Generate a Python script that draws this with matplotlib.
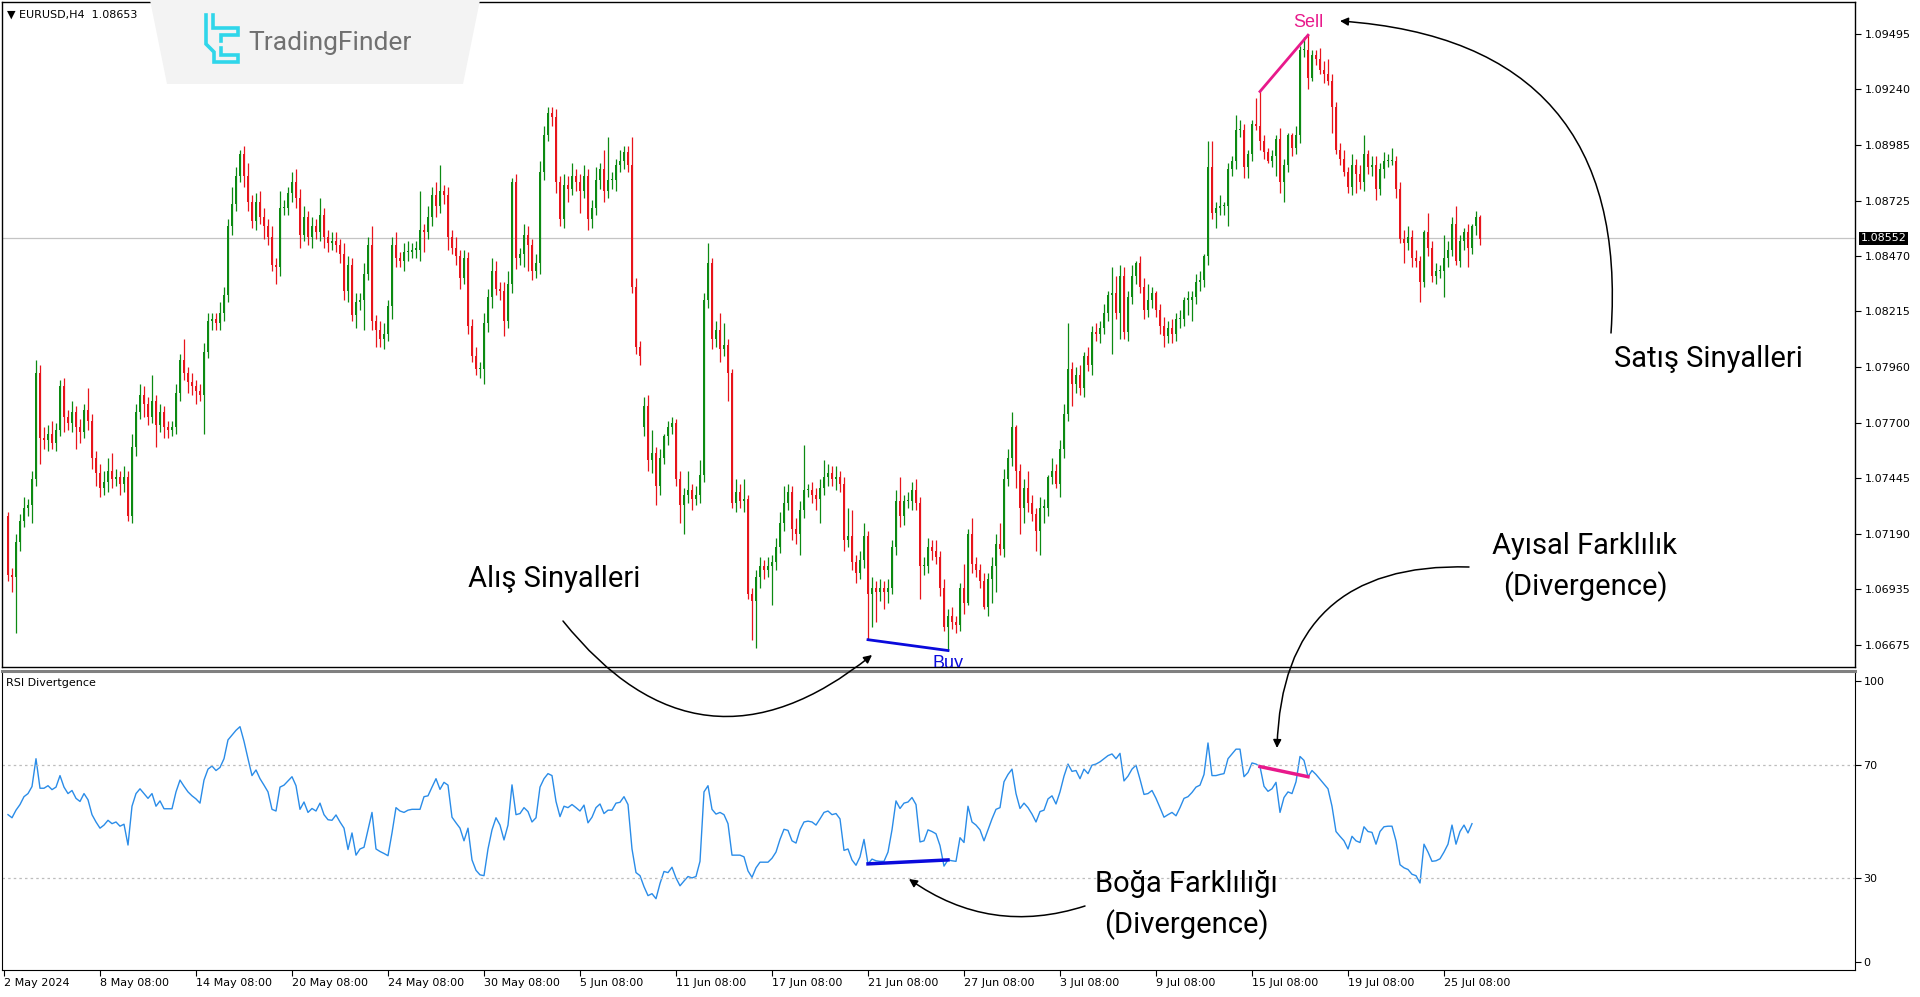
import numpy as np
import matplotlib
matplotlib.use("Agg")
import matplotlib.pyplot as plt
from matplotlib.patches import Polygon

# ---- data (prices are in pips above 1.06000, one bar = H4 candle) ----
first_open = 127
closes = [
    100, 99, 115, 125, 131, 132, 144, 193, 163, 162,
    165, 161, 167, 187, 173, 170, 175, 168, 166, 176,
    171, 154, 147, 140, 143, 148, 144, 145, 142, 145,
    127, 159, 175, 183, 179, 173, 180, 169, 175, 168,
    167, 168, 184, 199, 193, 189, 187, 185, 183, 203,
    217, 218, 216, 221, 229, 261, 271, 284, 294, 284,
    272, 263, 272, 265, 261, 256, 243, 242, 269, 269,
    276, 281, 274, 257, 265, 256, 261, 258, 266, 256,
    253, 254,
    252, 248, 231, 243, 220, 226, 227, 239, 252, 217,
    213, 209, 211, 224, 252, 246, 245, 249, 249, 250,
    250, 259, 258, 265, 275, 270, 277, 275, 256, 251,
    247, 237, 246, 215, 201, 195, 195, 216, 228, 240,
    232, 231, 217, 234, 281, 246, 248, 257, 252, 240,
    244, 286, 303, 313, 311, 281, 264, 280, 278, 284,
    281, 277, 284, 264, 269, 282, 287, 277, 282, 282,
    289, 291, 295, 289, 233, 205, 201,
    178, 153, 156, 141, 154, 164, 168, 170, 144, 132,
    137, 139, 135, 137, 146, 227, 244, 209, 213, 204,
    206, 193, 133, 138, 134, 135, 91, 88, 99, 104,
    102, 104, 106, 113, 124, 133, 138, 121, 119, 130,
    139, 139, 137, 135, 140, 145, 147, 144, 145, 142,
    116, 118, 106, 101, 107, 118, 91, 94, 92, 94,
    92, 94, 113, 134, 127, 134, 134, 139, 133, 104,
    104, 113, 111, 108, 94, 76, 81, 78, 77, 94,
    87, 119, 105, 102,
    97, 85, 98, 104, 114, 112, 144, 154, 168, 148,
    131, 140, 133, 128, 120, 131, 131, 145, 148, 142,
    158, 174, 195, 188, 192, 186, 201, 197, 212, 211,
    214, 221, 229, 230, 221, 238, 212, 228, 238, 244,
    233, 222, 227, 230, 222, 215, 210, 214, 211, 218,
    218, 227, 227, 228, 235, 236, 247, 288, 267, 269,
    270, 270, 287, 291,
    305, 305, 288, 294, 308, 307, 300, 295, 291, 293,
    301, 281, 289, 303, 297, 303, 342, 342, 329, 340,
    338, 333, 331, 328, 316, 296, 292, 286, 279, 289,
    285, 281, 294, 288, 289, 278, 287, 291, 291, 291,
    278, 255, 253, 256, 246, 245, 235, 258, 251, 238,
    240, 240, 246, 250, 262, 245, 254, 258, 251, 261,
    265, 255,
]
# upper / lower shadow length beyond the body, pips
hi_wick = [
    2, 3, 4, 3, 5, 3, 4, 6, 4, 5,
    4, 6, 3, 3, 4, 3, 5, 3, 4, 3,
    10, 3, 3, 4, 5, 6, 8, 4, 3, 5,
    3, 6, 4, 5, 4, 3, 12, 3, 4, 3,
    3, 3, 4, 3, 10, 3, 4, 3, 3, 4,
    4, 3, 3, 5, 4, 3, 8, 4, 2, 4,
    6, 3, 4, 5, 4, 3, 5, 3, 8, 4,
    3, 5, 6, 4, 5, 3, 4, 3, 8, 3,
    3, 4,
    4, 3, 5, 4, 3, 4, 3, 5, 4, 9,
    3, 4, 5, 3, 4, 6, 3, 4, 5, 3,
    4, 18, 3, 5, 4, 6, 12, 3, 4, 3,
    5, 3, 4, 3, 3, 4, 3, 5, 4, 6,
    5, 3, 4, 6, 2, 4, 3, 5, 4, 3,
    4, 5, 4, 3, 3, 4, 3, 5, 4, 6,
    3, 4, 5, 3, 4, 6, 3, 9, 20, 4,
    3, 5, 3, 3, 13, 4, 3,
    4, 5, 11, 3, 4, 1, 3, 3, 2, 4,
    3, 9, 3, 4, 7, 3, 9, 2, 4, 8,
    10, 3, 2, 6, 4, 9, 2, 3, 3, 4,
    3, 4, 3, 4, 5, 8, 4, 3, 5, 4,
    21, 3, 4, 3, 4, 8, 4, 3, 5, 3,
    3, 13, 12, 3, 4, 6, 2, 5, 3, 4,
    3, 4, 3, 5, 11, 3, 4, 4, 5, 3,
    4, 4, 3, 5, 3, 4, 3, 4, 3, 2,
    11, 2, 7, 3,
    3, 4, 3, 4, 5, 10, 5, 4, 7, 1,
    3, 4, 8, 4, 3, 5, 4, 1, 6, 3,
    4, 5, 21, 3, 4, 5, 2, 4, 3, 4,
    3, 4, 2, 12, 8, 5, 4, 3, 5, 1,
    3, 4, 7, 3, 1, 3, 4, 3, 4, 3,
    4, 1, 4, 3, 4, 4, 1, 12, 12, 3,
    5, 2, 3, 2,
    7, 5, 3, 2, 2, 12, 16, 3, 2, 3,
    2, 5, 3, 1, 1, 4, 2, 6, 7, 2,
    2, 5, 4, 7, 3, 2, 3, 4, 2, 5,
    3, 4, 9, 2, 4, 4, 3, 4, 3, 6,
    2, 3, 4, 5, 3, 4, 2, 1, 9, 3,
    4, 3, 11, 4, 3, 8, 3, 2, 4, 1,
    3, 1,
]
lo_wick = [
    3, 7, 26, 4, 3, 4, 8, 3, 12, 4,
    5, 3, 4, 3, 7, 3, 4, 10, 5, 3,
    4, 5, 6, 4, 3, 5, 4, 3, 5, 4,
    2, 3, 4, 3, 6, 4, 3, 10, 3, 5,
    4, 3, 3, 4, 3, 5, 4, 6, 3, 18,
    3, 4, 3, 3, 4, 3, 4, 3, 3, 5,
    4, 3, 4, 3, 6, 4, 3, 8, 4, 3,
    3, 4, 5, 6, 3, 4, 5, 3, 4, 5,
    4, 3,
    3, 4, 4, 5, 3, 6, 4, 14, 3, 4,
    8, 4, 5, 3, 6, 4, 3, 5, 4, 3,
    4, 5, 9, 3, 4, 5, 3, 4, 6, 3,
    4, 5, 3, 4, 3, 3, 4, 7, 4, 5,
    3, 4, 7, 3, 4, 5, 3, 6, 12, 4,
    3, 5, 4, 3, 4, 5, 3, 4, 6, 3,
    4, 10, 3, 5, 4, 3, 4, 5, 3, 4,
    5, 3, 4, 3, 3, 3, 4,
    4, 5, 6, 9, 4, 3, 4, 3, 3, 8,
    13, 4, 5, 3, 4, 3, 4, 5, 4, 6,
    3, 13, 2, 4, 3, 5, 2, 18, 22, 5,
    4, 3, 18, 4, 3, 4, 3, 5, 5, 10,
    4, 3, 4, 5, 11, 3, 4, 3, 5, 4,
    5, 3, 4, 5, 3, 4, 21, 15, 14, 4,
    8, 5, 3, 4, 5, 4, 3, 4, 3, 15,
    4, 3, 4, 3, 4, 2, 11, 3, 4, 3,
    5, 1, 4, 3,
    3, 1, 4, 11, 12, 3, 4, 3, 4, 8,
    12, 7, 4, 3, 9, 11, 7, 4, 3, 2,
    6, 4, 3, 10, 4, 3, 4, 3, 5, 3,
    4, 3, 4, 27, 3, 12, 3, 4, 3, 4,
    3, 4, 3, 4, 3, 4, 5, 3, 4, 3,
    4, 3, 7, 10, 3, 4, 3, 4, 3, 7,
    3, 4, 9, 3,
    4, 3, 5, 5, 3, 2, 4, 3, 1, 3,
    9, 5, 9, 3, 4, 3, 4, 3, 5, 1,
    3, 2, 4, 2, 12, 2, 3, 2, 3, 4,
    9, 3, 4, 3, 4, 5, 3, 4, 3, 2,
    4, 2, 9, 3, 4, 3, 9, 2, 4, 3,
    4, 3, 12, 4, 3, 2, 3, 4, 9, 3,
    4, 3,
]
gap_opens = {159: 168}   # Monday gap open

rsi = [
    52.4, 51.3, 54, 56, 58.8, 59.9, 62.4, 72.3, 61.8, 61.8,
    62.7, 61.3, 62.2, 66.3, 62.2, 59.9, 61, 58.2, 57.1, 59.9,
    57.7, 52.4, 49.8, 47.6, 48.7, 50.4, 49.2, 49.8, 48.3, 49,
    41.6, 55.4, 59.9, 61.6, 59.9, 58.2, 59.9, 55.4, 57.3, 54.5,
    54.5, 54.5, 60.5, 64.7, 62.5, 60.5, 59.1, 58, 56.5, 64.7,
    68.6, 69.7, 68.1, 69.2, 72.3, 79, 80.7, 82.4, 83.7, 78.5,
    72.3, 66.3, 68.3, 65.2, 62.9, 60.5, 54.3, 53.7, 62.2, 62.9,
    64.4, 65.9, 62.7, 54.3, 56.9, 53.2, 54.6, 53.7, 56.5, 52.4,
    50.6, 50.4, 52.3, 49.8, 47.6, 40, 45.9, 38, 40.2, 40.8,
    47, 53.2, 40.2, 39.3, 38.6, 37.8, 45.9, 54.9, 53.7, 53.2,
    54, 54.3, 54.3, 54.3, 58.8, 59.1, 62.2, 65.2, 61.4, 63.9,
    62.9, 51.5, 49.5, 47.6, 43.1, 47.6, 36.3, 32.6, 31, 30.7,
    40.2, 47, 51.3,
    48.7, 43.4, 48.7, 63, 52.4, 52.8, 54.9, 53.5, 49.8, 51.3,
    62.2, 65.2, 67, 66.3, 57.1, 51.7, 55.4, 54.9, 56, 54.9,
    53.7, 55.8, 49.5, 51.5, 54.9, 56.2, 52.8, 54, 54, 56.5,
    56.8, 58.8, 56, 40.2, 31.8, 30.7, 26.8, 23.6, 24.3, 22.5,
    27.9, 32.2, 31.8, 33.7, 29.9, 27.1, 28.8, 30.4, 29.9, 30.4,
    35.8, 60.5, 62.7, 54.3, 52.6, 53.2, 52.4, 49.2, 38, 38,
    38, 37.4, 32.4, 30.1, 33.5, 35.5, 35.5, 35.5, 36.9, 39.1,
    43.6, 47.2, 46.8, 43.1, 42.3, 47, 49.8, 50.1, 49.8, 48.7,
    50.9, 53.2, 53.7, 52.4, 52.8, 50.9, 39.7, 40.2, 36.3, 34.4,
    37.4, 43.6, 34.9, 36.6, 36, 35.8, 35.8, 39.1, 47, 57.3,
    54.6, 56.5, 56.9, 58.5, 56, 42.7, 43.1, 47, 46.4, 45.6,
    41.4, 34.1, 36.3, 36, 35.8, 44.2, 42.5, 55.4, 49.8, 48.7,
    47, 43.1, 47, 50.9, 54.3, 54.9,
    64.1, 66.7, 68.6, 59.9, 54.6, 56.5, 54.9, 52.6, 49.8, 53.5,
    54, 58, 59.1, 56.2, 60.5, 66.1, 70.4, 67.8, 68.1, 65.2,
    68.6, 67, 70, 70.4, 71.2, 72.3, 73.4, 74, 72.3, 74.2,
    64.4, 66.1, 68.6, 70, 65, 59.6, 59.9, 61, 58.2, 54.9,
    51.5, 52.4, 53.2, 52, 54.9, 58.2, 58.8, 60.3, 62.2, 62.9,
    66.7, 77.9, 66.3, 66.3, 66.7, 67, 72.3, 74, 75.7, 75.7,
    65.9, 67.4, 70.8, 70.4, 69.5, 62.5, 60.7, 61.6, 63.9, 53.2,
    58.5, 60.5, 59.9, 64.1, 73.1, 71.7, 65.9, 68.1, 66.7, 65,
    63.3, 61.6, 55.4, 46.4, 44.7, 43.1, 40.2, 44.7, 43.1, 42.5,
    48.1, 46.4, 46.1, 41.9, 46.4, 48.1, 48.3, 48.3, 43.1, 34.6,
    33.5, 32.9, 31.2, 30.7, 28.1, 41.9, 39.1, 35.8, 36, 36.7,
    39.1, 41.9, 48.7, 41.9, 46.4, 48.7, 45.9, 49.2,
]

price_ticks = [349.5, 324.0, 298.5, 272.5, 247.0, 221.5, 196.0, 170.0, 144.5, 119.0, 93.5, 67.5]
price_labels = ["1.09495", "1.09240", "1.08985", "1.08725", "1.08470", "1.08215",
                "1.07960", "1.07700", "1.07445", "1.07190", "1.06935", "1.06675"]
last_price = 255.2
last_label = "1.08552"

date_ticks = [-1, 23, 47, 71, 95, 119, 143, 167, 191, 215, 239, 263, 287, 311, 335, 359]
date_labels = ["2 May 2024", "8 May 08:00", "14 May 08:00", "20 May 08:00", "24 May 08:00",
               "30 May 08:00", "5 Jun 08:00", "11 Jun 08:00", "17 Jun 08:00", "21 Jun 08:00",
               "27 Jun 08:00", "3 Jul 08:00", "9 Jul 08:00", "15 Jul 08:00", "19 Jul 08:00",
               "25 Jul 08:00"]
rsi_ticks = [100, 70, 30, 0]

buy_bars = [215, 235]
sell_bars = [313, 325]

GREEN = "#0C8A12"
RED = "#E8141B"
MAGENTA = "#E8198B"
BLUE = "#0A0ADC"
BIG = ["Roboto", "DejaVu Sans"]
BIG_SIZE = 21

plt.rcParams["font.family"] = ["DejaVu Sans"]
fig = plt.figure(figsize=(19.2, 9.97), dpi=100)
W, H = 1920, 997

ax = fig.add_axes([2 / W, 1 - 667 / H, 1853 / W, 665 / H])
ax2 = fig.add_axes([2 / W, 1 - 970 / H, 1853 / W, 299 / H])

# ---- candles ----
n = len(closes)
x = np.arange(n)
c = np.array(closes, float)
o = np.array([first_open] + closes[:-1], float)
for k, v in gap_opens.items():
    o[k] = v
hi = np.maximum(o, c) + np.array(hi_wick)
lo = np.minimum(o, c) - np.array(lo_wick)
cols = np.where(c >= o, GREEN, RED)

ax.axhline(last_price, color="#C4C4C4", lw=0.9, zorder=1)
ax.vlines(x, lo, hi, colors=cols, lw=0.9, zorder=2)
ax.bar(x, np.maximum(np.abs(c - o), 0.6), bottom=np.minimum(o, c), width=0.62,
       color=cols, linewidth=0, zorder=3)

ax.plot(sell_bars, hi[sell_bars], color=MAGENTA, lw=2, zorder=4)
ax.plot(buy_bars, lo[buy_bars], color=BLUE, lw=2, zorder=4)
ax.text(sell_bars[1], hi[sell_bars[1]] + 2, "Sell", color=MAGENTA, fontsize=13,
        ha="center", va="bottom", family=["Liberation Sans", "DejaVu Sans"])
ax.text(buy_bars[1], lo[buy_bars[1]] - 2, "Buy", color=BLUE, fontsize=13,
        ha="center", va="top", clip_on=True, family=["Liberation Sans", "DejaVu Sans"])

ax.set_xlim(-1.5, 461.75)
ax.set_ylim(57.4, 364.3)
ax.set_xticks([])
ax.yaxis.tick_right()
ax.set_yticks(price_ticks, price_labels)
ax.tick_params(axis="y", labelsize=8, length=4, pad=3, width=0.8)
ax.annotate(last_label, xy=(1, last_price), xycoords=("axes fraction", "data"),
            xytext=(4, 0), textcoords="offset points", va="center", ha="left",
            color="white", fontsize=8,
            bbox=dict(boxstyle="square,pad=0.12", fc="black", ec="none"))
for s in ax.spines.values():
    s.set_linewidth(1)

# ---- RSI panel ----
ax2.plot(np.arange(len(rsi)), rsi, color="#2A8CE8", lw=1)
ax2.axhline(70, color="#BDBDBD", lw=0.9, ls=(0, (2, 2.5)))
ax2.axhline(30, color="#BDBDBD", lw=0.9, ls=(0, (2, 2.5)))
ax2.plot(buy_bars, [rsi[b] for b in buy_bars], color=BLUE, lw=2.5)
ax2.plot(sell_bars, [rsi[b] for b in sell_bars], color=MAGENTA, lw=2.5)
ax2.set_xlim(-1.5, 461.75)
ax2.set_ylim(-2.85, 103.5)
ax2.yaxis.tick_right()
ax2.set_yticks(rsi_ticks, [str(t) for t in rsi_ticks])
ax2.set_xticks(date_ticks, date_labels)
for lab in ax2.get_xticklabels():
    lab.set_horizontalalignment("left")
ax2.tick_params(labelsize=8, length=4, pad=2, width=0.8)
ax2.spines["top"].set_color("#808080")
ax2.spines["top"].set_linewidth(2.2)

# ---- overlay in pixel coordinates for labels / arrows / logo ----
ov = fig.add_axes([0, 0, 1, 1], zorder=10)
ov.set_xlim(0, W)
ov.set_ylim(H, 0)
ov.axis("off")
ov.patch.set_alpha(0)

ov.add_patch(Polygon([(150, 0),(480, 0),(463, 84), (167, 84)], closed=True,
                     fc="#F3F3F3", ec="none"))
cyan = "#2FD6EA"
ov.plot([206, 206, 214, 214, 238, 238, 221, 221], [15, 44, 52, 62, 62, 55, 55, 48],
        color=cyan, lw=2.6, solid_joinstyle="miter")
ov.plot([213, 213, 238, 238, 221, 221], [15, 28, 28, 35, 35, 41],
        color=cyan, lw=2.6, solid_joinstyle="miter")
ov.text(248, 43, "TradingFinder", color="#707070", fontsize=19, va="center",
        ha="left", family=["Roboto", "DejaVu Sans"])

ov.text(7, 15, "\u25bc EURUSD,H4  1.08653", fontsize=8, va="center", ha="left")
ov.text(6, 683, "RSI Divertgence", fontsize=8, va="center", ha="left")

ov.text(554, 579, "Alış Sinyalleri", fontsize=BIG_SIZE, ha="center", va="center", family=BIG)
ov.text(1708, 359, "Satış Sinyalleri", fontsize=BIG_SIZE, ha="center", va="center", family=BIG)
ov.text(1585, 567, "Ayısal Farklılık\n(Divergence)", fontsize=BIG_SIZE, ha="center",
        va="center", multialignment="center", linespacing=1.5, family=BIG)
ov.text(1186, 905, "Boğa Farklılığı\n(Divergence)", fontsize=BIG_SIZE, ha="center",
        va="center", multialignment="center", linespacing=1.5, family=BIG)

arrows = [
    ((563, 621), (872, 655), 0.5),
    ((1611, 333), (1340, 21), 0.5),
    ((1469, 567), (1277, 748), 0.5),
    ((1085, 906), (909, 879), -0.25),
]
for start, end, rad in arrows:
    ov.annotate("", xy=end, xytext=start,
                arrowprops=dict(arrowstyle="-|>", color="black", lw=1.1,
                                connectionstyle=f"arc3,rad={rad}",
                                shrinkA=0, shrinkB=0, mutation_scale=12))

fig.savefig("out.png", dpi=100)
